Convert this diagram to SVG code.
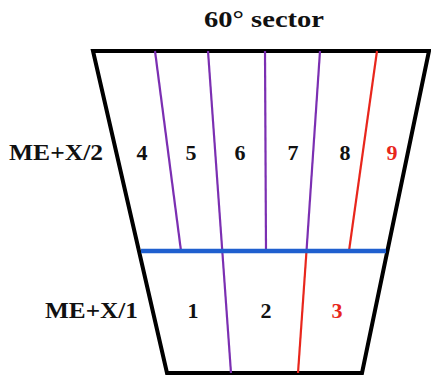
<svg xmlns="http://www.w3.org/2000/svg" width="431" height="376" viewBox="0 0 431 376">
<style>
text{font-family:"Liberation Serif","DejaVu Serif",serif;font-weight:bold;fill:#111}
.lbl{font-size:24px}
.num{font-size:22px;text-anchor:middle}
.red{fill:#e8261c}
.p{stroke:#7b2fb2;stroke-width:2.2;fill:none}
.r{stroke:#e8261c;stroke-width:2.2;fill:none}
</style>
<rect width="431" height="376" fill="#fff"/>
<text id="title" x="264" y="27" class="lbl" text-anchor="middle" textLength="120" lengthAdjust="spacingAndGlyphs">60° sector</text>
<g id="sector">
<polygon points="93,51 429,51 362,373 167,373" fill="none" stroke="#000" stroke-width="4" stroke-linejoin="miter"/>
</g>
<g id="connectors">
<line class="p" x1="155" y1="51" x2="181" y2="251"/>
<line class="p" x1="208" y1="51" x2="231" y2="373"/>
<line class="p" x1="265" y1="51" x2="266" y2="251"/>
<line class="p" x1="320" y1="51" x2="306.5" y2="251"/>
<line class="r" x1="306.5" y1="251" x2="298" y2="373"/>
<line class="r" x1="377" y1="51" x2="349" y2="251"/>
<line x1="141" y1="251" x2="386" y2="251" stroke="#1f5fcf" stroke-width="4.5"/>
</g>
<g id="upper">
<text x="9" y="160" class="lbl" textLength="94" lengthAdjust="spacingAndGlyphs">ME+X/2</text>
<text x="142" y="160" class="num">4</text>
<text x="191" y="160" class="num">5</text>
<text x="240" y="160" class="num">6</text>
<text x="293" y="160" class="num">7</text>
<text x="345" y="160" class="num">8</text>
<text x="392" y="160" class="num red">9</text>
</g>
<g id="lower">
<text x="45" y="318" class="lbl" textLength="93" lengthAdjust="spacingAndGlyphs">ME+X/1</text>
<text x="193" y="318" class="num">1</text>
<text x="266" y="318" class="num">2</text>
<text x="337" y="318" class="num red">3</text>
</g>
</svg>
